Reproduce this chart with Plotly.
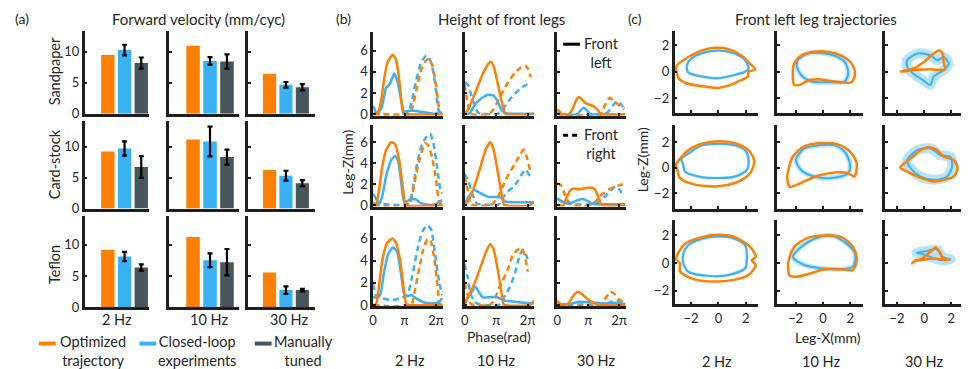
import plotly.graph_objects as go

W, H = 969, 369
ORANGE = "#FF8000"
BLUE = "#3AB0F7"
GRAY = "#48555A"
BAND = "rgba(125,205,238,0.55)"
AXIS = "#1e1e1e"
TXT = "#262626"
FONT = "Lato"

surfaces = ["Sandpaper", "Card-stock", "Teflon"]
freqs = ["2 Hz", "10 Hz", "30 Hz"]

# (a) forward velocity (mm/cyc), rows = surface, cols = frequency
vel_opt = [[9.45, 10.95, 6.45], [9.2, 11.15, 6.2], [9.2, 11.2, 5.55]]
vel_loop = [[10.25, 8.5, 4.65], [9.7, 10.8, 5.3], [8.1, 7.5, 2.75]]
vel_loop_err = [[0.85, 0.6, 0.45], [1.15, 2.4, 0.8], [0.75, 1.1, 0.6]]
vel_manual = [[8.15, 8.4, 4.25], [6.7, 8.3, 4.1], [6.35, 7.2, 2.75]]
vel_manual_err = [[0.9, 1.15, 0.5], [1.75, 1.2, 0.5], [0.5, 2.1, 0.2]]

# (b) leg height vs phase: (phase rad, height mm); *_l front left, *_r front right
sand_2_opt_l = [(0, 0), (0.46, 0.15), (0.79, 1.23), (1.11, 3.4), (1.44, 4.9), (1.93, 5.6), (2.26, 5.2), (2.59, 3.4), (2.82, 1.23), (3.02, 0.06), (3.25, 0), (7.0, 0)]
sand_2_exp_l = [(0, 0.77), (0.39, 0.06), (0.85, 0.6), (1.28, 2.46), (1.7, 2.9), (2.1, 3.85), (2.43, 3.1), (2.82, 1.23), (3.08, 0.25), (3.74, 0.37), (4.72, 0.25), (6.03, 0.06), (6.85, 0.15)]
sand_2_opt_r = [(0, 0), (3.6, 0), (3.9, 0.6), (4.3, 2.2), (4.8, 4.2), (5.3, 5.1), (5.6, 5.2), (5.9, 4.6), (6.2, 3.2), (6.45, 1.5), (6.7, 0.1), (7.0, 0)]
sand_2_exp_r = [(0, 0.1), (3.4, 0.05), (3.8, 1.0), (4.3, 3.2), (4.8, 4.9), (5.3, 5.5), (5.6, 5.3), (6.0, 4.0), (6.3, 2.0), (6.6, 0.2), (7.0, 0.1)]

sand_10_opt_l = [(0, 0), (0.3, 0.4), (1.0, 1.9), (1.8, 3.8), (2.4, 4.8), (2.62, 4.95), (2.9, 4.5), (3.3, 2.9), (3.7, 1.2), (4.05, 0.05), (4.3, 0), (6.9, 0)]
sand_10_exp_l = [(0, 0), (0.5, 0.1), (1.0, 0.9), (1.4, 1.3), (2.0, 1.7), (2.4, 1.85), (2.9, 1.75), (3.3, 1.2), (3.7, 0.4), (4.1, 0.1), (6.9, 0.08)]
sand_10_opt_r = [(0, 2.8), (0.2, 1.6), (0.5, 0.2), (0.8, 0), (2.4, 0), (2.9, 0.5), (3.5, 1.6), (4.2, 2.8), (5.0, 3.9), (5.6, 4.4), (6.05, 4.6), (6.3, 4.3), (6.6, 3.5)]
sand_10_exp_r = [(0, 3.0), (0.3, 2.8), (0.6, 2.0), (1.0, 0.8), (1.3, 0.2), (1.6, 0.05), (3.3, 0.05), (3.8, 0.5), (4.5, 1.4), (5.3, 2.2), (6.0, 2.7), (6.6, 3.0)]

sand_30_opt_l = [(0, 0.5), (0.2, 0.3), (0.45, 0), (1.2, 0), (1.6, 0.6), (1.9, 1.3), (2.15, 1.6), (2.4, 1.5), (2.8, 1.1), (3.3, 0.9), (3.8, 0.7), (4.2, 0.3), (4.5, 0), (6.9, 0)]
sand_30_exp_l = [(0, 0.1), (0.4, 0), (2.0, 0), (2.4, 0.4), (2.7, 0.65), (3.0, 0.4), (3.3, 0.05), (6.9, 0.02)]
sand_30_opt_r = [(0, 0), (4.4, 0), (4.8, 0.8), (5.3, 1.55), (5.7, 1.3), (6.2, 0.9), (6.8, 0.5)]
sand_30_exp_r = [(0, 0.3), (0.4, 0), (4.8, 0), (5.2, 0.3), (5.7, 0.9), (6.1, 1.25), (6.5, 0.9), (6.8, 0.5)]

card_2_opt_l = [(0, 0), (0.3, 0.1), (0.6, 1.5), (0.9, 3.6), (1.3, 5.3), (1.8, 6.0), (2.2, 5.8), (2.6, 4.3), (2.9, 2.2), (3.15, 0.3), (3.3, 0), (7.0, 0)]
card_2_exp_l = [(0, 1.1), (0.3, 0.6), (0.6, 0.15), (0.9, 0.8), (1.3, 2.8), (1.8, 4.3), (2.2, 4.7), (2.5, 4.2), (2.8, 2.2), (3.1, 0.3), (3.4, 0.4), (3.8, 0.6), (4.3, 0.55), (4.8, 0.2), (5.5, 0.05), (6.2, 0.1), (6.9, 0.5)]
card_2_opt_r = [(0, 0), (3.6, 0), (3.9, 1.0), (4.3, 3.0), (4.8, 5.0), (5.2, 5.9), (5.5, 5.7), (5.9, 4.5), (6.3, 2.3), (6.6, 0.3), (7.0, 0)]
card_2_exp_r = [(0, 0.2), (3.4, 0.1), (3.8, 0.8), (4.3, 3.5), (4.8, 5.6), (5.3, 6.5), (5.7, 6.8), (6.0, 6.0), (6.4, 3.5), (6.7, 1.5), (6.9, 1.1)]

card_10_opt_l = [(0, 0), (0.4, 0.5), (1.0, 1.9), (1.5, 3.4), (2.1, 5.3), (2.55, 6.0), (2.9, 5.3), (3.3, 3.2), (3.7, 1.0), (3.95, 0.05), (6.4, 0), (6.9, 0.3)]
card_10_exp_l = [(0, 0.2), (0.4, 0.8), (0.9, 1.45), (1.3, 1.3), (1.8, 1.05), (2.4, 0.8), (3.0, 0.8), (3.6, 0.75), (4.1, 0.35), (5.0, 0.3), (6.0, 0.3), (6.9, 0.3)]
card_10_opt_r = [(0, 2.8), (0.3, 1.5), (0.6, 0.1), (1.0, 0), (2.6, 0), (3.2, 0.6), (3.8, 1.8), (4.4, 3.0), (5.0, 3.9), (5.5, 4.8), (5.9, 5.3), (6.2, 4.6), (6.6, 3.0)]
card_10_exp_r = [(0, 3.0), (0.4, 2.2), (0.8, 1.0), (1.2, 0.2), (1.6, 0.1), (3.4, 0.1), (3.8, 0.7), (4.3, 1.3), (4.8, 1.7), (5.3, 2.3), (5.8, 3.1), (6.1, 3.4), (6.6, 2.6)]

card_30_opt_l = [(0, 0), (0.6, 0), (0.9, 0.6), (1.3, 1.4), (1.7, 1.6), (2.2, 1.5), (2.7, 1.6), (3.3, 1.7), (3.8, 1.55), (4.2, 0.7), (4.5, 0.05), (6.9, 0)]
card_30_exp_l = [(0, 0.6), (0.5, 0.35), (1.0, 0.2), (1.6, 0.3), (2.1, 0.5), (2.6, 0.6), (3.1, 0.4), (3.6, 0.15), (4.0, 0.1), (6.9, 0.1)]
card_30_opt_r = [(0, 2.1), (0.4, 1.9), (0.8, 1.0), (1.3, 0.1), (1.6, 0), (3.5, 0), (4.0, 0.5), (4.6, 1.1), (5.2, 1.5), (5.8, 1.75), (6.3, 1.9), (6.8, 2.1)]
card_30_exp_r = [(0, 0.7), (0.6, 0.3), (1.5, 0.1), (3.5, 0.1), (4.2, 0.3), (4.8, 0.8), (5.4, 1.4), (5.9, 1.8), (6.3, 1.5), (6.7, 0.9)]

tef_2_opt_l = [(0, 0), (0.3, 0.1), (0.6, 1.8), (0.95, 4.2), (1.4, 5.6), (1.95, 6.0), (2.3, 5.6), (2.7, 4.0), (3.0, 1.8), (3.3, 0.1), (3.5, 0), (7.0, 0)]
tef_2_exp_l = [(0, 0.7), (0.4, 0.7), (0.7, 0.9), (1.1, 3.0), (1.5, 4.6), (2.0, 5.2), (2.4, 4.8), (2.8, 2.7), (3.1, 1.0), (3.4, 0.8), (3.8, 0.9), (4.3, 0.6), (5.0, 0.25), (5.8, 0.15), (6.5, 0.25), (6.9, 0.6)]
tef_2_opt_r = [(0, 0), (3.8, 0), (4.2, 1.5), (4.6, 3.3), (5.0, 5.0), (5.4, 5.9), (5.7, 5.9), (6.1, 4.2), (6.4, 2.0), (6.65, 0.1), (7.0, 0)]
tef_2_exp_r = [(0, 1.9), (0.3, 0.8), (0.9, 0.6), (1.9, 0.45), (2.7, 0.6), (3.4, 0.9), (3.9, 2.6), (4.4, 4.9), (4.9, 6.6), (5.4, 7.2), (5.8, 6.8), (6.2, 4.5), (6.6, 2.0), (6.9, 0.9)]

tef_10_opt_l = [(0, 0), (0.3, 0.7), (0.6, 1.2), (1.0, 2.0), (1.5, 3.2), (2.0, 4.5), (2.55, 5.5), (2.9, 5.0), (3.3, 3.2), (3.7, 1.0), (3.9, 0.05), (6.5, 0), (6.9, 0.4)]
tef_10_exp_l = [(0, 0.1), (0.4, 0.8), (0.8, 1.3), (1.1, 1.65), (1.4, 1.2), (1.8, 0.7), (2.5, 0.7), (3.1, 0.75), (3.5, 0.6), (4.0, 0.4), (5.0, 0.3), (6.0, 0.2), (6.9, 0.15)]
tef_10_opt_r = [(0, 2.0), (0.3, 0.9), (0.6, 0.1), (1.0, 0), (2.5, 0), (3.0, 0.5), (3.4, 1.5), (3.8, 2.2), (4.3, 3.2), (4.8, 4.5), (5.3, 5.0), (5.7, 5.1), (6.0, 4.5), (6.3, 3.0)]
tef_10_exp_r = [(0, 3.7), (0.3, 2.5), (0.6, 1.0), (1.0, 0.3), (1.5, 0.05), (3.5, 0.05), (4.0, 0.8), (4.5, 1.6), (5.0, 2.8), (5.5, 4.5), (5.8, 5.0), (6.1, 4.6), (6.35, 4.0)]

tef_30_opt_l = [(0, 0.4), (0.3, 0.1), (0.6, 0), (1.2, 0.2), (1.6, 0.8), (2.1, 1.2), (2.5, 1.0), (3.0, 0.6), (3.5, 0.3), (4.0, 0.05), (6.9, 0)]
tef_30_exp_l = [(0, 0.2), (0.5, 0.05), (1.5, 0.15), (2.2, 0.3), (3.0, 0.25), (4.0, 0.2), (5.0, 0.15), (6.0, 0.2), (6.9, 0.1)]
tef_30_opt_r = [(0, 0), (4.3, 0), (4.8, 0.5), (5.4, 1.2), (5.8, 1.0), (6.3, 0.5), (6.8, 0.2)]
tef_30_exp_r = [(0, 0.1), (4.5, 0.05), (5.5, 0.3), (6.2, 0.4), (6.8, 0.25)]

# (c) front left leg trajectories: (Leg-X mm, Leg-Z mm), closed loops
traj_sand_2_opt = [(-3.1, 0.37), (-2.2, 1.1), (-1.2, 1.6), (-0.25, 1.8), (0.7, 1.7), (1.7, 1.2), (2.3, 0.6), (2.7, 0.17), (2.2, 0), (2.15, -0.37), (1.46, -0.74), (0.73, -1.06), (0, -1.23), (-1.2, -1.1), (-2.4, -0.86), (-2.9, -0.5), (-3.05, 0)]
traj_sand_2_exp = [(-2.3, 0.5), (-1.95, 1.0), (-1.2, 1.4), (0, 1.6), (1.2, 1.36), (1.95, 0.86), (2.2, 0.25), (1.95, 0), (1.2, -0.25), (0, -0.5), (-1.2, -0.37), (-2.2, -0.07)]
traj_sand_10_opt = [(-2.1, -1.0), (-2.2, -0.37), (-2.1, 0.6), (-1.6, 1.2), (-0.6, 1.5), (0.37, 1.5), (1.36, 1.2), (2.1, 0.6), (2.35, -0.1), (2.1, -0.8), (0.86, -0.74), (-0.37, -0.57), (-1.1, -0.67), (-1.7, -1.0)]
traj_sand_10_exp = [(-1.85, 0.86), (-1.1, 1.36), (-0.1, 1.4), (0.86, 1.2), (1.6, 0.74), (1.85, -0.1), (1.6, -0.74), (0.37, -0.8), (-0.86, -0.74), (-1.6, -0.25), (-1.9, 0.37)]
traj_sand_30_opt = [(-1.73, 0), (-0.76, 0.25), (0, 0.74), (0.7, 1.36), (1.15, 1.6), (1.4, 1.23), (1.44, 0.6), (1.56, 0.17), (0.46, 0.17), (-0.76, 0.12), (-1.6, 0)]
traj_sand_30_exp = [(-1.25, 0.86), (-0.5, 1.36), (0.46, 1.23), (0.95, 0.86), (1.44, 1.1), (1.8, 0.6), (1.44, 0.12), (0.7, -0.37), (0.46, -1.0), (-0.15, -0.6), (-0.85, -0.12), (-1.25, 0.37)]

traj_card_2_opt = [(-3.1, 0.2), (-2.2, 1.36), (-1.2, 1.87), (0, 2.07), (1.2, 1.9), (2.2, 1.36), (2.6, 0.6), (2.55, 0.08), (2.2, -0.56), (1.2, -1.2), (0, -1.46), (-1.7, -1.33), (-2.8, -0.82), (-3.0, -0.18)]
traj_card_2_exp = [(-2.7, 0.7), (-2.2, 1.1), (-1.2, 1.74), (0, 1.87), (1.2, 1.74), (1.95, 1.36), (2.2, 0.6), (2.07, -0.18), (1.2, -0.7), (0, -0.82), (-1.46, -0.7), (-2.44, -0.3), (-2.56, 0.2)]
traj_card_10_opt = [(-2.6, -0.7), (-2.2, 0.85), (-1.36, 1.67), (-0.12, 1.92), (1.1, 1.82), (2.0, 1.23), (2.47, 0.33), (2.3, -0.7), (1.85, -0.44), (0.86, -0.38), (-0.37, -0.64), (-1.6, -1.2), (-2.35, -1.5), (-2.47, -1.46)]
traj_card_10_exp = [(-1.97, 0.6), (-1.36, 1.5), (-0.37, 1.74), (0.86, 1.74), (1.6, 1.23), (1.97, 0.33), (1.85, -0.44), (0.62, -0.82), (-0.62, -0.7), (-1.6, -0.18)]
traj_card_30_opt = [(-1.78, 0), (-1.0, 0.72), (-0.27, 1.36), (0.34, 1.6), (0.95, 1.36), (1.44, 0.85), (2.17, 0.6), (2.46, -0.05), (2.17, -0.7), (1.44, -0.95), (0.7, -1.08), (-0.5, -0.7), (-1.5, -0.18)]
traj_card_30_exp = [(-1.25, 0.6), (-0.5, 1.36), (0.46, 1.5), (1.2, 0.97), (1.93, 0.85), (2.05, 0.08), (1.68, -0.7), (0.7, -0.95), (-0.27, -0.7), (-1.0, -0.05)]

traj_tef_2_opt = [(-3.1, 0.26), (-2.44, 1.4), (-1.2, 1.88), (0, 2.05), (1.2, 1.88), (2.32, 1.17), (2.73, 0.45), (2.44, 0.21), (2.73, -0.14), (2.2, -0.86), (1.2, -1.2), (0, -1.33), (-1.7, -1.2), (-2.8, -0.62), (-2.8, -0.02)]
traj_tef_2_exp = [(-2.56, 0.7), (-2.2, 1.3), (-1.2, 1.76), (0, 1.93), (1.2, 1.76), (1.95, 1.3), (2.07, 0.21), (1.95, -0.38), (0.73, -0.86), (-0.73, -0.93), (-2.2, -0.62), (-2.56, -0.02)]
traj_tef_10_opt = [(-2.54, 0), (-2.1, 1.17), (-1.1, 1.83), (0.12, 2.0), (1.36, 1.88), (2.2, 1.17), (2.47, 0.21), (2.2, -0.5), (1.36, -0.45), (0.12, -0.45), (-0.86, -0.74), (-1.85, -0.98), (-2.4, -0.93), (-2.47, -0.86)]
traj_tef_10_exp = [(-2.2, 0.45), (-1.6, 1.17), (-0.62, 1.76), (0.62, 2.0), (1.6, 1.52), (2.35, 0.7), (2.2, -0.26), (1.1, -0.45), (-0.12, -0.38), (-1.36, -0.14)]
traj_tef_30_opt = [(-0.88, -0.02), (-0.63, 0.21), (-0.27, 0.26), (0.46, 0.81), (0.83, 1.12), (1.15, 0.81), (1.32, 0.45), (1.8, 0.21), (0.7, 0.33), (-0.27, 0.21), (-0.76, 0.1)]
traj_tef_30_exp = [(-0.56, 0.74), (0.22, 0.88), (0.95, 0.98), (1.32, 0.45), (1.93, 0.26), (1.2, 0.21), (0.46, 0.45), (-0.27, 0.69)]

heights = [
    [(sand_2_opt_l, sand_2_exp_l, sand_2_opt_r, sand_2_exp_r),
     (sand_10_opt_l, sand_10_exp_l, sand_10_opt_r, sand_10_exp_r),
     (sand_30_opt_l, sand_30_exp_l, sand_30_opt_r, sand_30_exp_r)],
    [(card_2_opt_l, card_2_exp_l, card_2_opt_r, card_2_exp_r),
     (card_10_opt_l, card_10_exp_l, card_10_opt_r, card_10_exp_r),
     (card_30_opt_l, card_30_exp_l, card_30_opt_r, card_30_exp_r)],
    [(tef_2_opt_l, tef_2_exp_l, tef_2_opt_r, tef_2_exp_r),
     (tef_10_opt_l, tef_10_exp_l, tef_10_opt_r, tef_10_exp_r),
     (tef_30_opt_l, tef_30_exp_l, tef_30_opt_r, tef_30_exp_r)],
]
trajs = [
    [(traj_sand_2_opt, traj_sand_2_exp), (traj_sand_10_opt, traj_sand_10_exp), (traj_sand_30_opt, traj_sand_30_exp)],
    [(traj_card_2_opt, traj_card_2_exp), (traj_card_10_opt, traj_card_10_exp), (traj_card_30_opt, traj_card_30_exp)],
    [(traj_tef_2_opt, traj_tef_2_exp), (traj_tef_10_opt, traj_tef_10_exp), (traj_tef_30_opt, traj_tef_30_exp)],
]

# subplot boxes in pixels
A_COLS = [(73, 138, [-0.39, 3.48]), (158, 228, [-0.41, 3.7]), (237, 305, [-0.33, 3.8])]
A_ROWS = [(23, 108, 13.4), (115, 205, 14.2), (213, 306, 14.5)]
B_COLS = [(363, 433), (455, 525), (548, 617)]
B_ROWS = [(25, 110, 7.7), (120, 203, 7.6), (213, 305, 8.0)]
C_COLS = [(666, 750, [-3.2, 2.9]), (769, 855, [-3.35, 2.9]), (878, 962, [-2.85, 3.3])]
C_ROWS = [(23, 107, [-3.1, 3.1]), (120, 205, [-3.2, 3.3]), (217, 303, [-3.0, 3.1])]
BAND_W = [3, 5, 10]


def px_x(p):
    return p / W


def px_y(p):
    return 1 - p / H


fig = go.Figure()
axes = {}
count = [0]


def new_axes(xpx, ypx, xrange, yrange, xticks=None, xlabels=None, yticks=None, show_x=False, show_y=False):
    count[0] += 1
    s = "" if count[0] == 1 else str(count[0])
    base = dict(showline=True, linewidth=2.5, linecolor=AXIS, ticks="inside", ticklen=3,
                tickwidth=1.5, tickcolor=AXIS, showgrid=False, zeroline=False,
                tickfont=dict(size=13, color=TXT), fixedrange=True)
    axes["xaxis" + s] = dict(base, domain=[px_x(xpx[0]), px_x(xpx[1])], range=xrange,
                             anchor="y" + s, tickvals=xticks if xticks else [],
                             ticktext=xlabels, showticklabels=show_x)
    axes["yaxis" + s] = dict(base, domain=[px_y(ypx[1]), px_y(ypx[0])], range=yrange,
                             anchor="x" + s, tickvals=yticks if yticks else [],
                             showticklabels=show_y)
    return "x" + s, "y" + s


# (a) bars
for r in range(3):
    for c in range(3):
        xa, ya = new_axes(A_COLS[c][:2], A_ROWS[r][:2], A_COLS[c][2], [0, A_ROWS[r][2]],
                          yticks=[0, 5, 10], show_y=(c == 0))
        fig.add_trace(go.Bar(x=[1], y=[vel_opt[r][c]], width=0.8, marker=dict(color=ORANGE, line_width=0),
                             xaxis=xa, yaxis=ya))
        fig.add_trace(go.Bar(x=[2], y=[vel_loop[r][c]], width=0.8, marker=dict(color=BLUE, line_width=0),
                             error_y=dict(type="data", array=[vel_loop_err[r][c]], color="black", thickness=2.2, width=2.5),
                             xaxis=xa, yaxis=ya))
        fig.add_trace(go.Bar(x=[3], y=[vel_manual[r][c]], width=0.8, marker=dict(color=GRAY, line_width=0),
                             error_y=dict(type="data", array=[vel_manual_err[r][c]], color="black", thickness=2.2, width=2.5),
                             xaxis=xa, yaxis=ya))

# (b) heights
for r in range(3):
    for c in range(3):
        xa, ya = new_axes(B_COLS[c], B_ROWS[r][:2], [0, 6.95], [-0.12, B_ROWS[r][2]],
                          xticks=[0, 3.14159, 6.28318], xlabels=["0", "π", "2π"],
                          yticks=[0, 2, 4, 6], show_x=(r == 2), show_y=(c == 0))
        opt_l, exp_l, opt_r, exp_r = heights[r][c]
        for pts, col, dash in [(exp_r, BLUE, "6px,4px"), (opt_r, ORANGE, "6px,4px"),
                               (exp_l, BLUE, "solid"), (opt_l, ORANGE, "solid")]:
            fig.add_trace(go.Scatter(x=[p[0] for p in pts], y=[p[1] for p in pts], mode="lines",
                                     line=dict(color=col, width=2.5, dash=dash, shape="spline", smoothing=0.5),
                                     xaxis=xa, yaxis=ya))

# (c) trajectories
for r in range(3):
    for c in range(3):
        xa, ya = new_axes(C_COLS[c][:2], C_ROWS[r][:2], C_COLS[c][2], C_ROWS[r][2],
                          xticks=[-2, 0, 2], yticks=[-2, 0, 2], show_x=(r == 2), show_y=(c == 0))
        opt, exp = trajs[r][c]
        ex = [p[0] for p in exp] + [exp[0][0]]
        ey = [p[1] for p in exp] + [exp[0][1]]
        fig.add_trace(go.Scatter(x=ex, y=ey, mode="lines",
                                 line=dict(color=BAND, width=BAND_W[c], shape="spline", smoothing=0.8),
                                 xaxis=xa, yaxis=ya))
        fig.add_trace(go.Scatter(x=ex, y=ey, mode="lines",
                                 line=dict(color=BLUE, width=2, shape="spline", smoothing=0.8),
                                 xaxis=xa, yaxis=ya))
        fig.add_trace(go.Scatter(x=[p[0] for p in opt] + [opt[0][0]], y=[p[1] for p in opt] + [opt[0][1]],
                                 mode="lines", line=dict(color=ORANGE, width=2.5, shape="spline", smoothing=0.8),
                                 xaxis=xa, yaxis=ya))

annotations = []


def label(text, x, y, size=14, angle=0, xanchor="center"):
    annotations.append(dict(text=text, x=px_x(x), y=px_y(y), xref="paper", yref="paper",
                            showarrow=False, textangle=angle, xanchor=xanchor, yanchor="middle",
                            font=dict(family=FONT, size=size, color=TXT)))


label("(a)", 10, 11, 14)
label("(b)", 333, 11, 14)
label("(c)", 626, 11, 14)
label("Forward velocity (mm/cyc)", 187, 11, 15)
label("Height of front legs", 492, 11, 15)
label("Front left leg trajectories", 808, 11, 15)
for name, yy in zip(surfaces, [65, 160, 262]):
    label(name, 43, yy, 14.5, angle=-90)
for f, xa_, xb_, xc_ in zip(freqs, [106, 198, 278], [400, 487, 587], [709, 813, 917]):
    label(f, xa_, 318, 14.5)
    label(f, xb_, 360, 14.5)
    label(f, xc_, 361, 14.5)
label("Leg-Z(mm)", 337, 158, 14, angle=-90)
label("Leg-Z(mm)", 634, 155, 14, angle=-90)
label("Phase(rad)", 490, 336, 14)
label("Leg-X(mm)", 820, 337, 14)
label("Optimized<br>trajectory", 81, 351, 14.5)
label("Closed-loop<br>experiments", 186, 351, 14.5)
label("Manually<br>tuned", 293, 351, 14.5)
label("Front<br>left", 593, 46, 14.5)
label("Front<br>right", 593, 139, 14.5)

shapes = []
for x0, col in [(27, ORANGE), (128, BLUE), (244, GRAY)]:
    shapes.append(dict(type="line", xref="paper", yref="paper", x0=px_x(x0), x1=px_x(x0 + 17),
                       y0=px_y(343), y1=px_y(343), line=dict(color=col, width=4)))
shapes.append(dict(type="line", xref="paper", yref="paper", x0=px_x(554), x1=px_x(571),
                   y0=px_y(37), y1=px_y(37), line=dict(color="black", width=3)))
shapes.append(dict(type="line", xref="paper", yref="paper", x0=px_x(554), x1=px_x(571),
                   y0=px_y(130), y1=px_y(130), line=dict(color="black", width=3, dash="5px,4px")))

fig.update_layout(width=W, height=H, autosize=False, margin=dict(l=0, r=0, t=0, b=0),
                  plot_bgcolor="white", paper_bgcolor="white", showlegend=False,
                  barmode="overlay", font=dict(family=FONT, color=TXT),
                  annotations=annotations, shapes=shapes, **axes)
fig.write_html("out.html")
